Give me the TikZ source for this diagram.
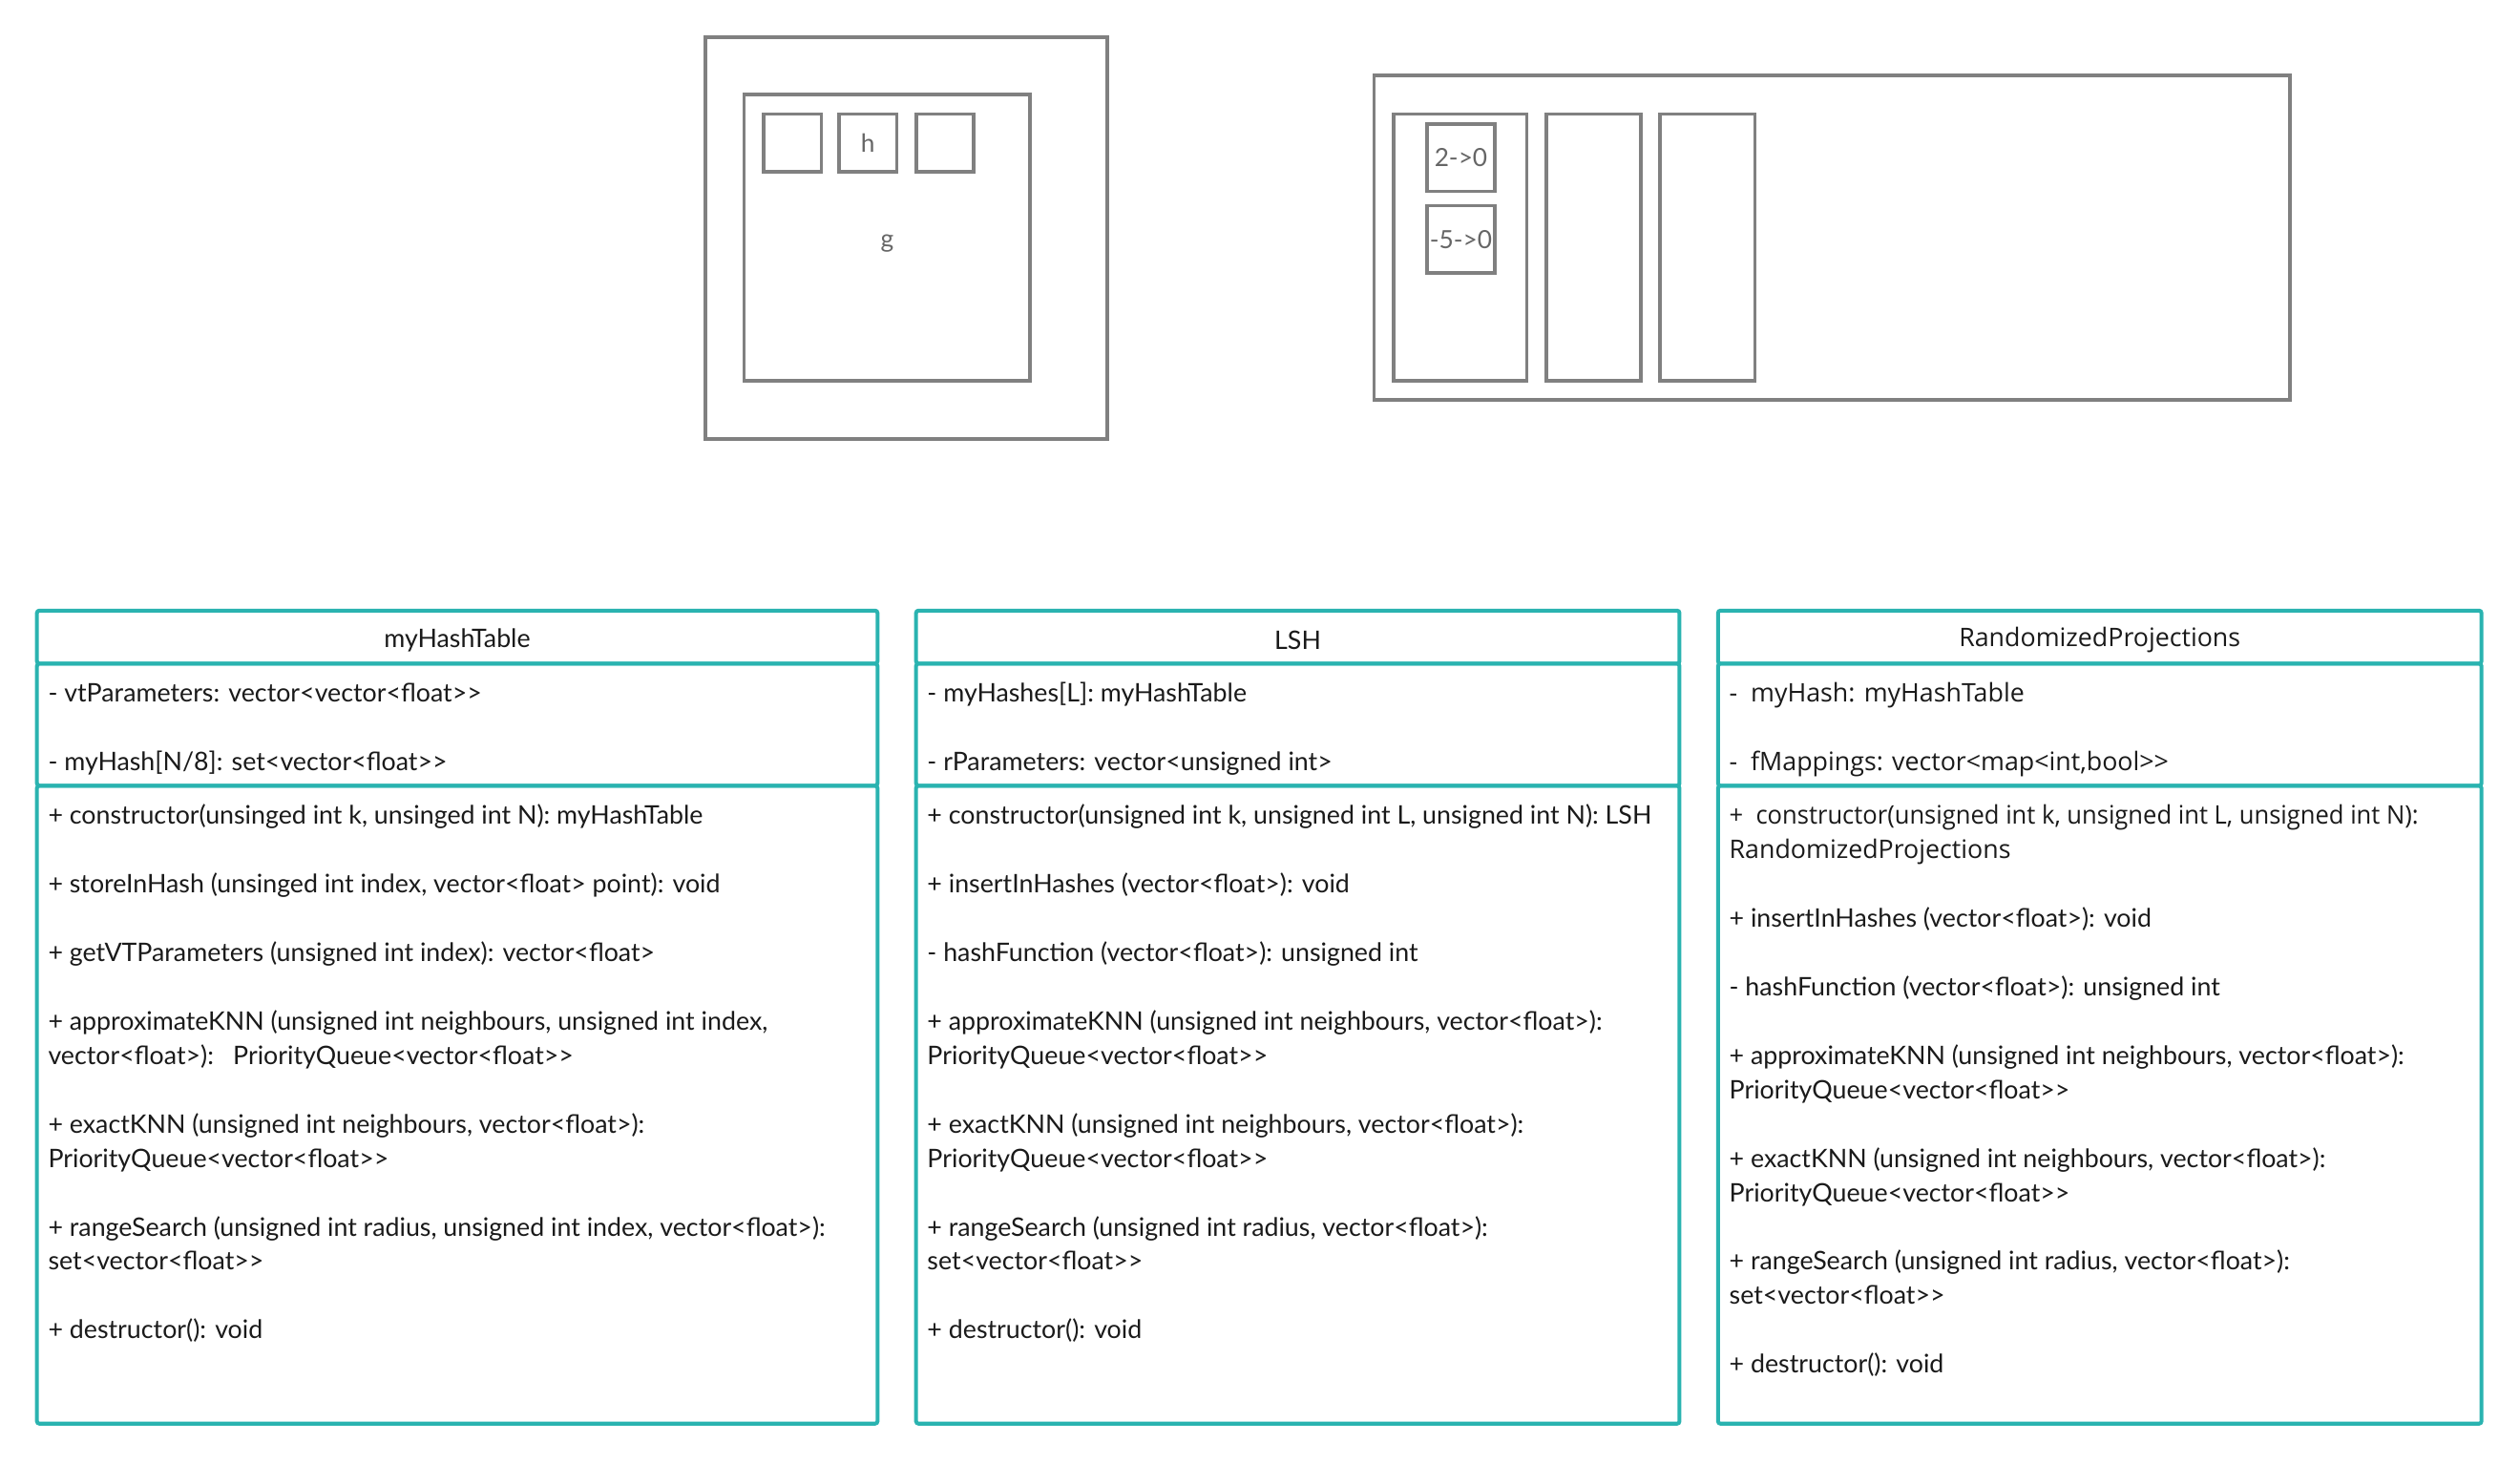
\documentclass[tikz,border=0pt]{standalone}
\usepackage{fontspec}
\setmainfont{Lato}[Ligatures=TeXOff]
\newfontfamily\opensans{Open Sans}[Ligatures=TeXOff]
\usetikzlibrary{positioning}
\definecolor{umlteal}{HTML}{2AB3B0}
\definecolor{boxgray}{HTML}{808080}
\definecolor{labelgray}{HTML}{666666}
\definecolor{umltextcol}{HTML}{1A1A1A}

\begin{document}
\begin{tikzpicture}[x=1pt,y=-1pt,
	every node/.style={inner sep=0pt, outer sep=0pt},
	graybox/.style={draw=boxgray, line width=2.2pt, anchor=north west,
		text=labelgray, font=\fontsize{15.6}{18}\selectfont},
	umlbox/.style={draw=umlteal, line width=2.4pt, rounded corners=1.5pt, anchor=north west},
	umlhead/.style={text=umltextcol, yshift=-2pt, font=\fontsize{15.9}{18}\selectfont},
	umltext/.style={align=left, text=umltextcol, font=\fontsize{15.9}{21.35}\selectfont}]
	\useasboundingbox (0,0) rectangle (1568,910.5);
	% hash table with g and h
	\node[graybox, minimum width=250, minimum height=250] (gouter) at (439,23) {};
	\node[graybox, minimum width=178, minimum height=178, text height=12pt, text depth=0pt] (ginner) at (463,59) {g};
	\node[graybox, minimum width=36, minimum height=36] (h1) at (475,71) {};
	\node[graybox, minimum width=36, minimum height=36, right=11pt of h1] (h2) {h};
	\node[graybox, minimum width=36, minimum height=36, right=12pt of h2] (h3) {};
	% mappings
	\node[graybox, minimum width=570, minimum height=202] (mouter) at (855,47) {};
	\node[graybox, minimum width=83, minimum height=166] (col1) at (867,71) {};
	\node[graybox, minimum width=59, minimum height=166, right=12pt of col1] (col2) {};
	\node[graybox, minimum width=59, minimum height=166, right=12pt of col2] (col3) {};
	\node[graybox, minimum width=42, minimum height=42] (map1) at (888,77) {2->0};
	\node[graybox, minimum width=42, minimum height=42, below=9pt of map1] (map2) {-5->0};

	% class myHashTable
	\node[umlbox, minimum width=523, minimum height=33] (ht-head) at (23,380) {};
	\node[umlbox, minimum width=523, minimum height=76, below=0pt of ht-head.south west, anchor=north west] (ht-attr) {};
	\node[umlbox, minimum width=523, minimum height=397, below=0pt of ht-attr.south west, anchor=north west] (ht-ops) {};
	\node[umlhead] at (ht-head) {myHashTable};
	\node[umltext, below right=9pt and 7pt of ht-attr.north west] (ht-attr-text) {\strut
		- vtParameters: vector<vector<float>>\\[21.35pt]
		- myHash[N/8]: set<vector<float>>};
	\node[umltext, below right=9pt and 7pt of ht-ops.north west] (ht-ops-text) {\strut
		+ constructor(unsinged int k, unsinged int N): myHashTable\\[21.35pt]
		+ storeInHash (unsinged int index, vector<float> point): void\\[21.35pt]
		+ getVTParameters (unsigned int index): vector<float>\\[21.35pt]
		+ approximateKNN (unsigned int neighbours, unsigned int index,\\
		vector<float>):\hspace{12pt}PriorityQueue<vector<float>>\\[21.35pt]
		+ exactKNN (unsigned int neighbours, vector<float>):\\
		PriorityQueue<vector<float>>\\[21.35pt]
		+ rangeSearch (unsigned int radius, unsigned int index, vector<float>):\\
		set<vector<float>>\\[21.35pt]
		+ destructor(): void};

	% class LSH
	\node[umlbox, minimum width=475, minimum height=33] (lsh-head) at (570,380) {};
	\node[umlbox, minimum width=475, minimum height=76, below=0pt of lsh-head.south west, anchor=north west] (lsh-attr) {};
	\node[umlbox, minimum width=475, minimum height=397, below=0pt of lsh-attr.south west, anchor=north west] (lsh-ops) {};
	\node[umlhead] at (lsh-head) {LSH};
	\node[umltext, below right=9pt and 7pt of lsh-attr.north west] (lsh-attr-text) {\strut
		- myHashes[L]: myHashTable\\[21.35pt]
		- rParameters: vector<unsigned int>};
	\node[umltext, below right=9pt and 7pt of lsh-ops.north west] (lsh-ops-text) {\strut
		+ constructor(unsigned int k, unsigned int L, unsigned int N): LSH\\[21.35pt]
		+ insertInHashes (vector<float>): void\\[21.35pt]
		- hashFunction (vector<float>): unsigned int\\[21.35pt]
		+ approximateKNN (unsigned int neighbours, vector<float>):\\
		PriorityQueue<vector<float>>\\[21.35pt]
		+ exactKNN (unsigned int neighbours, vector<float>):\\
		PriorityQueue<vector<float>>\\[21.35pt]
		+ rangeSearch (unsigned int radius, vector<float>):\\
		set<vector<float>>\\[21.35pt]
		+ destructor(): void};

	% class RandomizedProjections
	\node[umlbox, minimum width=475, minimum height=33] (rp-head) at (1069,380) {};
	\node[umlbox, minimum width=475, minimum height=76, below=0pt of rp-head.south west, anchor=north west] (rp-attr) {};
	\node[umlbox, minimum width=475, minimum height=397, below=0pt of rp-attr.south west, anchor=north west] (rp-ops) {};
	\node[umlhead, font=\opensans\fontsize{15.9}{18}\selectfont] at (rp-head) {RandomizedProjections};
	\node[umltext, font=\opensans\fontsize{15.9}{21.35}\selectfont, below right=9pt and 7pt of rp-attr.north west] (rp-attr-text) {\strut
		-~ myHash: myHashTable\\[21.35pt]
		-~ fMappings: vector<map<int,bool>>};
	\node[umltext, below right=9pt and 7pt of rp-ops.north west] (rp-ops-text) {\strut
		{\opensans\scalebox{0.955}[1]{+~ constructor(unsigned int k, unsigned int L, unsigned int N):}}\\
		{\opensans RandomizedProjections}\\[21.35pt]
		+ insertInHashes (vector<float>): void\\[21.35pt]
		- hashFunction (vector<float>): unsigned int\\[21.35pt]
		+ approximateKNN (unsigned int neighbours, vector<float>):\\
		PriorityQueue<vector<float>>\\[21.35pt]
		+ exactKNN (unsigned int neighbours, vector<float>):\\
		PriorityQueue<vector<float>>\\[21.35pt]
		+ rangeSearch (unsigned int radius, vector<float>):\\
		set<vector<float>>\\[21.35pt]
		+ destructor(): void};
\end{tikzpicture}
\end{document}
